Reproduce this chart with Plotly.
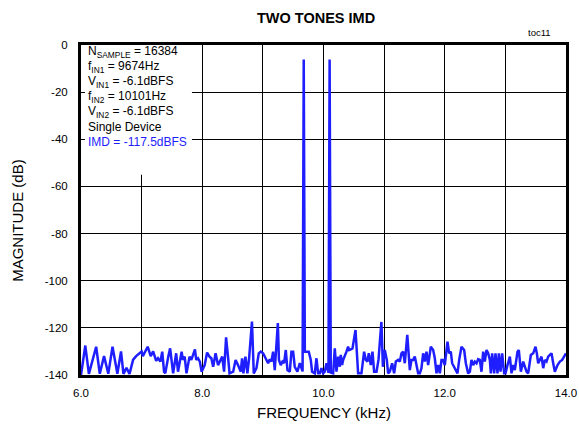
import plotly.graph_objects as go

# Spectrum vertices (frequency in kHz, magnitude in dB)
freq_khz = [
    6.000, 6.071, 6.130, 6.250, 6.310, 6.380, 6.450, 6.520, 6.600, 6.660, 6.700, 6.750, 6.800, 6.860,
    6.910, 6.970, 7.000, 7.020, 7.050, 7.100, 7.150, 7.190, 7.240,
    7.270, 7.310, 7.340, 7.370, 7.390, 7.440, 7.470, 7.520, 7.570, 7.600, 7.660, 7.680, 7.710, 7.740,
    7.790, 7.820, 7.880, 7.900, 7.930, 7.960, 7.990, 8.040, 8.080, 8.120, 8.150, 8.180, 8.220, 8.260,
    8.290, 8.330, 8.360, 8.393, 8.430, 8.450, 8.510, 8.550, 8.590,
    8.635, 8.657, 8.679, 8.712, 8.745, 8.773, 8.820, 8.850, 8.894, 8.932, 8.965, 9.004, 9.031, 9.059,
    9.086, 9.114, 9.141, 9.169, 9.196, 9.218, 9.247, 9.265, 9.295, 9.323, 9.350, 9.378, 9.405, 9.444,
    9.471, 9.499, 9.526, 9.570, 9.609, 9.655, 9.674, 9.692, 9.719, 9.757, 9.790, 9.812, 9.856, 9.884,
    9.911,
    9.939, 9.966, 9.994, 10.021, 10.049, 10.082, 10.101, 10.120, 10.159, 10.186, 10.214, 10.241, 10.269,
    10.285, 10.307, 10.324, 10.351, 10.379, 10.406, 10.423, 10.450, 10.478, 10.528, 10.550, 10.571,
    10.626, 10.670, 10.698, 10.725, 10.747, 10.780, 10.808, 10.835, 10.874, 10.907, 10.955, 10.980,
    11.011, 11.044, 11.066, 11.094, 11.132, 11.165, 11.193, 11.231,
    11.259, 11.286, 11.314, 11.341, 11.382, 11.400, 11.424, 11.451, 11.479, 11.506, 11.534, 11.561,
    11.589, 11.616, 11.644, 11.671, 11.699, 11.726, 11.770, 11.809, 11.836, 11.864, 11.891, 11.919,
    11.946, 11.974, 12.001, 12.045, 12.073, 12.100, 12.122, 12.166, 12.210, 12.238, 12.276, 12.320,
    12.348, 12.386, 12.414, 12.441, 12.469, 12.496, 12.524, 12.551,
    12.578, 12.606, 12.634, 12.661, 12.689, 12.716, 12.744, 12.760, 12.782, 12.815, 12.837, 12.870,
    12.892, 12.920, 12.947, 12.980, 13.002, 13.035, 13.074, 13.101, 13.129, 13.156, 13.200, 13.222,
    13.255, 13.294, 13.321, 13.349, 13.376, 13.420, 13.459, 13.497, 13.519, 13.541, 13.569, 13.596,
    13.624, 13.651, 13.679, 13.706, 13.734, 13.761, 13.789, 13.816, 13.860, 13.899, 13.937, 13.981,
    14.000,
]

magnitude_db = [
    -140.0, -127.5, -139.5, -128.0, -139.5, -132.0, -139.5, -128.0, -139.5, -130.0, -139.5, -137.0, -139.5, -133.5,
    -132.0, -130.5, -130.0, -132.0, -130.5, -128.0, -132.0, -130.0, -134.0,
    -132.9, -134.3, -130.1, -138.6, -139.3, -132.2, -128.7, -139.3, -130.8, -138.6, -130.1, -133.6, -132.2, -139.3,
    -132.2, -133.6, -129.1, -133.6, -132.9, -134.3, -138.6, -135.8, -130.5, -132.2, -132.9, -136.5, -130.8, -135.8,
    -134.3, -132.2, -138.6, -124.0, -133.6, -139.3, -138.6, -133.6, -135.8,
    -138.6, -132.9, -139.3, -132.2, -139.3, -132.9, -117.3, -139.3, -137.1, -130.8, -130.1, -130.8, -132.2, -133.6,
    -135.0, -133.3, -134.3, -130.1, -137.9, -129.4, -118.0, -133.6, -135.8, -134.3, -135.0, -129.4, -137.9, -138.6,
    -130.1, -130.1, -136.5, -138.6, -135.0, -138.5, -6.1, -130.1, -130.1, -130.1, -133.6, -138.6, -139.3, -132.9,
    -139.3,
    -139.3, -137.1, -139.3, -138.6, -135.0, -139.0, -6.1, -139.0, -139.3, -128.7, -138.6, -132.2, -136.5,
    -131.5, -135.8, -133.6, -132.2, -130.1, -128.0, -129.4, -129.1, -128.7, -120.9, -133.6, -139.3,
    -139.3, -130.1, -133.6, -134.3, -130.8, -135.8, -130.1, -138.6, -138.6, -133.6, -117.5, -136.5,
    -129.4, -133.6, -139.3, -138.6, -135.0, -139.3, -134.3, -133.6,
    -134.3, -130.8, -130.1, -135.0, -123.0, -130.8, -137.9, -133.6, -133.6, -132.2, -135.8, -139.3,
    -139.3, -137.1, -130.8, -134.3, -130.1, -135.8, -128.0, -129.4, -132.9, -139.3, -135.8, -139.3,
    -133.6, -133.6, -135.8, -125.9, -130.8, -130.1, -135.0, -137.1, -139.3, -133.6, -128.0, -129.4,
    -135.0, -139.3, -138.6, -133.6, -135.8, -134.3, -135.0, -133.3,
    -133.6, -138.6, -130.1, -134.3, -129.4, -130.8, -133.6, -139.3, -130.8, -139.3, -130.8, -139.3,
    -130.8, -138.6, -130.8, -139.3, -139.3, -135.8, -132.2, -139.3, -135.8, -137.9, -130.1, -129.4,
    -138.6, -134.3, -136.5, -138.6, -139.3, -131.5, -130.8, -128.0, -130.8, -135.0, -133.6, -132.2,
    -137.1, -133.6, -134.3, -132.2, -131.5, -130.8, -135.0, -138.6, -135.8, -134.3, -133.6, -131.5,
    -130.8,
]

x_tick_vals = [6, 7, 8, 9, 10, 11, 12, 13, 14]
x_tick_text = ["6.0", "", "8.0", "", "10.0", "", "12.0", "", "14.0"]
y_tick_vals = [0, -20, -40, -60, -80, -100, -120, -140]
y_tick_text = ["0", "-20", "-40", "-60", "-80", "-100", "-120", "-140"]

info_lines = [
    "N<sub>SAMPLE</sub> = 16384",
    "f<sub>IN1</sub> = 9674Hz",
    "V<sub>IN1</sub> = -6.1dBFS",
    "f<sub>IN2</sub> = 10101Hz",
    "V<sub>IN2</sub> = -6.1dBFS",
    "Single Device",
    "IMD = -117.5dBFS",
]

FONT = "Liberation Sans, Arial, sans-serif"
BLUE = "rgb(30,30,255)"

fig = go.Figure()
fig.add_trace(go.Scatter(
    x=freq_khz, y=magnitude_db, mode="lines",
    line=dict(color=BLUE, width=2.5),
    showlegend=False, hoverinfo="skip",
))

fig.update_layout(
    width=579, height=425, autosize=False,
    margin=dict(l=81, r=13, t=45, b=50),
    paper_bgcolor="white", plot_bgcolor="white",
    font=dict(family=FONT, size=12, color="black"),
    showlegend=False,
)

fig.update_xaxes(
    range=[6, 14], tickmode="array", tickvals=x_tick_vals, ticktext=x_tick_text,
    showgrid=True, gridcolor="black", gridwidth=1,
    showline=True, linecolor="black", linewidth=3, mirror=True,
    ticks="", zeroline=False, tickfont=dict(size=11.5), automargin=False,
    ticklabelstandoff=5,
)
fig.update_yaxes(
    range=[-140, 0], tickmode="array", tickvals=y_tick_vals, ticktext=y_tick_text,
    showgrid=True, gridcolor="black", gridwidth=1,
    showline=True, linecolor="black", linewidth=3, mirror=True,
    ticks="inside", ticklen=4, tickcolor="black", zeroline=False, tickfont=dict(size=11.5),
    ticklabelstandoff=8, automargin=False,
)

# white box behind the info text (hides gridlines)
fig.add_shape(type="rect", xref="x", yref="y", x0=6.0, x1=7.83, y0=0, y1=-55,
              fillcolor="white", line=dict(width=0), layer="between")

# title and axis titles
fig.add_annotation(text="<b>TWO TONES IMD</b>", xref="paper", yref="paper", x=0.485, y=1.082,
                   showarrow=False, xanchor="center", yanchor="middle", font=dict(size=14.5))
fig.add_annotation(text="toc11", xref="paper", yref="paper", x=0.946, y=1.039,
                   showarrow=False, xanchor="center", yanchor="middle", font=dict(size=9.5))
fig.add_annotation(text="FREQUENCY (kHz)", xref="paper", yref="paper", x=0.5, y=-0.115,
                   showarrow=False, xanchor="center", yanchor="middle", font=dict(size=15))
fig.add_annotation(text="MAGNITUDE (dB)", xref="paper", yref="paper", x=-0.13, y=0.47,
                   showarrow=False, xanchor="center", yanchor="middle", textangle=-90,
                   font=dict(size=15))

y_centers_px = [52, 67, 82, 97, 112, 127, 142]
for i, line in enumerate(info_lines):
    fig.add_annotation(
        text=line, xref="paper", yref="paper", x=0.0103, y=1 - (y_centers_px[i] - 45) / 330,
        showarrow=False, xanchor="left", yanchor="middle",
        font=dict(size=12, color=BLUE if i == len(info_lines) - 1 else "black"),
    )

post = (
    "document.body.style.margin='0px';"
    "document.body.style.padding='0px';"
    "document.documentElement.style.overflow='hidden';"
    "document.body.style.overflow='hidden';"
    "var gd=document.getElementById('{plot_id}');"
    "Plotly.relayout(gd,{width:579,height:425});"
)
fig.write_html("out.html", config={"responsive": False, "displayModeBar": False},
               post_script=post)
